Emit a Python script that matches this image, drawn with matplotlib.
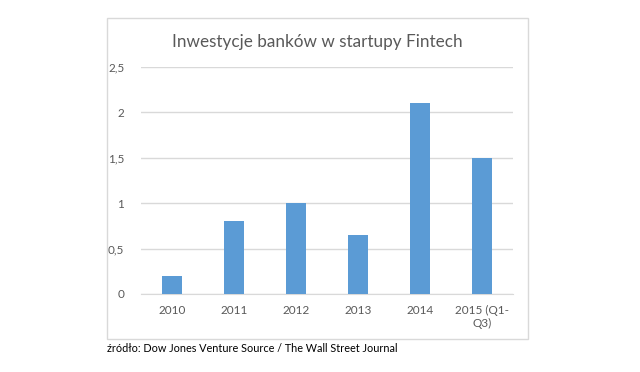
import matplotlib
matplotlib.use("Agg")
import matplotlib.pyplot as plt
from matplotlib.patches import Rectangle

# dane
years = ["2010", "2011", "2012", "2013", "2014", "2015 (Q1-\nQ3)"]
values = [0.2, 0.8, 1.0, 0.65, 2.1, 1.5]
yticks = [0, 0.5, 1, 1.5, 2, 2.5]
ytick_labels = ["0", "0,5", "1", "1,5", "2", "2,5"]

BAR_COLOR = "#5b9bd5"
GRID_COLOR = "#d9d9d9"
TEXT_COLOR = "#595959"

plt.rcParams["font.family"] = ["Lato", "DejaVu Sans"]

fig = plt.figure(figsize=(6.4, 3.72), dpi=100)
W, H = 640, 372

# ramka wykresu
fig.patches.append(Rectangle((107 / W, 1 - 339 / H), (528 - 107) / W, (339 - 18) / H,
                             transform=fig.transFigure, fill=False,
                             edgecolor=GRID_COLOR, linewidth=1))

ax = fig.add_axes([141 / W, 1 - 294 / H, (513 - 141) / W, (294 - 67) / H])
x = list(range(len(years)))
ax.bar(x, values, width=0.32, color=BAR_COLOR, zorder=3)
ax.set_xlim(-0.5, len(years) - 0.5)
ax.set_ylim(0, 2.5)
ax.set_yticks(yticks)
ax.set_yticklabels(ytick_labels)
ax.set_xticks(x)
ax.set_xticklabels(years)
ax.grid(axis="y", color=GRID_COLOR, linewidth=1, zorder=0)
for s in ["top", "right", "left"]:
    ax.spines[s].set_visible(False)
ax.spines["bottom"].set_color(GRID_COLOR)
ax.tick_params(length=0, labelsize=8.5, colors=TEXT_COLOR)
ax.tick_params(axis="y", pad=12)
ax.tick_params(axis="x", pad=8)

fig.text(317 / W, 1 - 42 / H, "Inwestycje banków w startupy Fintech",
         ha="center", va="center", fontsize=12.3, color=TEXT_COLOR)
fig.text(107 / W, 1 - 348 / H,
         "źródło: Dow Jones Venture Source / The Wall Street Journal",
         ha="left", va="center", fontsize=7.8, color="black")

fig.savefig("out.png", dpi=100)
